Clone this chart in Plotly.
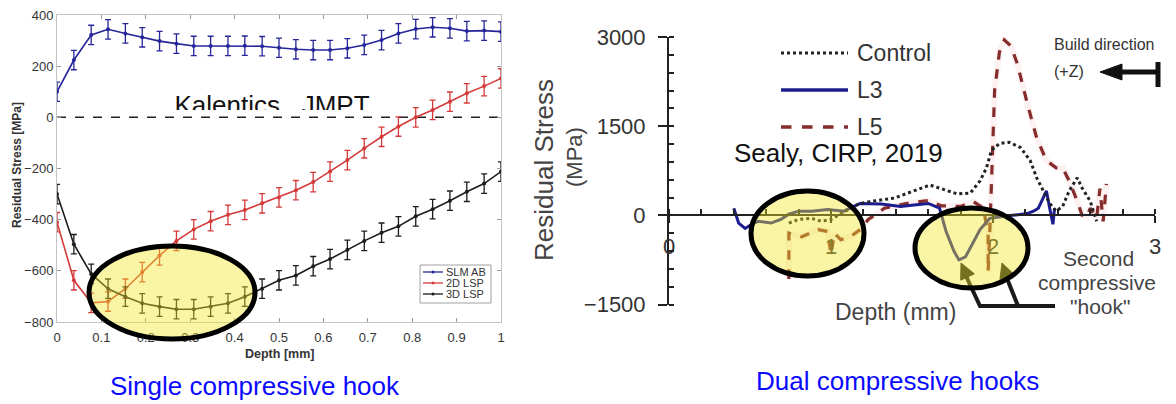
import plotly.graph_objects as go

W, H = 1176, 404
FONT = "Liberation Sans, Arial, sans-serif"

# ---------------- Left chart data (Kalentics, JMPT) ----------------
depth_left = [0.0, 0.038, 0.077, 0.115, 0.154, 0.192, 0.231, 0.269, 0.308, 0.346, 0.385,
              0.423, 0.462, 0.5, 0.538, 0.577, 0.615, 0.654, 0.692, 0.731, 0.769, 0.808,
              0.846, 0.885, 0.923, 0.962, 1.0]
slm_ab = [100, 224, 322, 344, 328, 313, 298, 288, 279, 279, 279, 280, 278, 272, 266, 263,
          263, 270, 283, 302, 328, 345, 352, 348, 337, 339, 335]
lsp_2d = [-410, -637, -725, -720, -670, -605, -540, -483, -438, -406, -381, -362, -336, -313,
          -285, -253, -212, -167, -121, -76, -36, 0, 29, 61, 94, 122, 152]
lsp_3d = [-300, -496, -612, -670, -701, -727, -740, -750, -750, -740, -727, -701, -670, -637,
          -618, -582, -554, -518, -483, -451, -426, -387, -359, -326, -291, -259, -212]
err_left = 38
left_names = ["SLM AB", "2D LSP", "3D LSP"]
left_colors = ["#26269a", "#d43a3a", "#1c1c1c"]
left_xticks = [0, 0.1, 0.2, 0.3, 0.4, 0.5, 0.6, 0.7, 0.8, 0.9, 1.0]
left_xticktext = ["0", "0.1", "0.2", "0.3", "0.4", "0.5", "0.6", "0.7", "0.8", "0.9", "1"]
left_yticks = [-800, -600, -400, -200, 0, 200, 400]

# ---------------- Right chart data (Sealy, CIRP, 2019) ----------------
ctrl_x = [0.74, 0.80, 0.88, 0.94, 1.00, 1.06, 1.12, 1.18, 1.26, 1.39, 1.48, 1.61, 1.69, 1.78,
          1.86, 1.92, 1.96, 1.99, 2.04, 2.10, 2.17, 2.23, 2.27, 2.31, 2.35, 2.39, 2.43, 2.47,
          2.52, 2.55, 2.60, 2.62, 2.64]
ctrl_y = [-130, -70, -50, -100, -70, 30, 120, 200, 240, 290, 375, 510, 440, 360, 375, 580, 800,
          1090, 1210, 1230, 1140, 920, 630, 410, 200, 70, 150, 410, 630, 460, 240, 70, -100]
l3_x = [0.40, 0.43, 0.47, 0.51, 0.55, 0.63, 0.69, 0.74, 0.80, 0.88, 0.98, 1.08, 1.14, 1.18,
        1.31, 1.43, 1.50, 1.60, 1.67, 1.71, 1.76, 1.79, 1.83, 1.87, 1.92, 1.98, 2.05, 2.12,
        2.21, 2.25, 2.28, 2.31, 2.33, 2.35, 2.37, 2.38]
l3_y = [120, -130, -220, -150, -100, -130, -70, 20, 70, 70, 100, 70, 150, 200, 190, 150, 170,
        200, 120, -270, -610, -750, -700, -500, -240, -50, -20, 0, 30, 70, 120, 290, 410, 120,
        -150, 120]
l5_x = [0.74, 0.74, 0.82, 0.92, 0.98, 1.00, 1.02, 1.06, 1.12, 1.18, 1.23, 1.33, 1.47, 1.60,
        1.68, 1.80, 1.88, 1.94, 1.97, 1.97, 1.98, 1.99, 2.00, 2.01, 2.04, 2.07, 2.11, 2.15,
        2.21, 2.27, 2.33, 2.39, 2.43, 2.47, 2.52, 2.55, 2.58, 2.60, 2.64, 2.66, 2.68, 2.70]
l5_y = [-1070, -300, -360, -240, -270, -660, -300, -410, -360, -240, -70, 120, 200, 250, 160,
        150, 230, 120, -300, -950, -300, 400, 1200, 2100, 2750, 2950, 2850, 2550, 1900, 1300,
        920, 800, 800, 580, 240, 0, -30, 120, -50, 450, -100, 530]
right_names = ["Control", "L3", "L5"]
right_xticks = [0, 1, 2, 3]
right_yticks = [-1500, 0, 1500, 3000]


def px(x):
    return x / W


def py(y):
    return 1 - y / H


fig = go.Figure()

# left chart traces
for name, vals, col in zip(left_names, [slm_ab, lsp_2d, lsp_3d], left_colors):
    fig.add_trace(go.Scatter(
        x=depth_left, y=vals, name=name, mode="lines+markers",
        line=dict(color=col, width=1.6), marker=dict(color=col, size=4),
        error_y=dict(type="constant", value=err_left, color=col, thickness=1.3, width=3),
        xaxis="x", yaxis="y", showlegend=False))

# right chart traces
fig.add_trace(go.Scatter(x=l5_x, y=l5_y, mode="lines", xaxis="x2", yaxis="y2",
                         line=dict(color="rgba(235,140,140,0.12)", width=6), showlegend=False,
                         hoverinfo="skip"))
fig.add_trace(go.Scatter(x=l5_x, y=l5_y, name="L5", mode="lines", xaxis="x2", yaxis="y2",
                         line=dict(color="#862c2c", width=3.2, dash="dash"), showlegend=False))
fig.add_trace(go.Scatter(x=l3_x, y=l3_y, name="L3", mode="lines", xaxis="x2", yaxis="y2",
                         line=dict(color="#1c1c8e", width=3), showlegend=False))
fig.add_trace(go.Scatter(x=ctrl_x, y=ctrl_y, name="Control", mode="lines", xaxis="x2",
                         yaxis="y2", line=dict(color="#222222", width=3, dash="dot"),
                         showlegend=False))

# clipped title text for left chart
fig.add_trace(go.Scatter(x=[272], y=[107], mode="text", text=["Kalentics,  JMPT"],
                         textfont=dict(size=26, color="#111", family=FONT),
                         textposition="middle center", cliponaxis=True,
                         xaxis="x3", yaxis="y3", showlegend=False, hoverinfo="skip"))

shapes = []
# dashed zero line (left)
shapes.append(dict(type="line", xref="x", yref="y", x0=0, x1=1, y0=0, y1=0,
                   line=dict(color="#222", width=1.5, dash="dash"), layer="below"))

# left legend
shapes.append(dict(type="rect", xref="paper", yref="paper", x0=px(420), x1=px(491),
                   y0=py(303), y1=py(265), line=dict(color="#a0a0a0", width=1),
                   fillcolor="white", layer="above"))
annotations = []
for i, (name, col) in enumerate(zip(left_names, left_colors)):
    yy = 272 + i * 11
    shapes.append(dict(type="line", xref="paper", yref="paper", x0=px(423), x1=px(443),
                       y0=py(yy), y1=py(yy), line=dict(color=col, width=1.3), layer="above"))
    shapes.append(dict(type="circle", xref="paper", yref="paper", x0=px(431.5), x1=px(434.5),
                       y0=py(yy + 1.5), y1=py(yy - 1.5), fillcolor=col,
                       line=dict(color=col, width=0), layer="above"))
    annotations.append(dict(x=px(444), y=py(yy), xref="paper", yref="paper", text=name,
                            showarrow=False, xanchor="left", yanchor="middle",
                            font=dict(size=11, color="#333", family=FONT)))

# right legend
legend_styles = [dict(color="#222222", width=3, dash="dot"),
                 dict(color="#1c1c8e", width=3.5),
                 dict(color="#862c2c", width=3.5, dash="dash")]
for i, (name, st) in enumerate(zip(right_names, legend_styles)):
    yy = [53, 90, 127][i]
    shapes.append(dict(type="line", xref="paper", yref="paper", x0=px(781), x1=px(848),
                       y0=py(yy), y1=py(yy), line=st, layer="above"))
    annotations.append(dict(x=px(855), y=py(yy), xref="paper", yref="paper", text=name,
                            showarrow=False, xanchor="left", yanchor="middle",
                            font=dict(size=23, color="#333", family=FONT)))


def tri(tip, base_c, half):
    (tx, ty), (bx, by) = tip, base_c
    dx, dy = tx - bx, ty - by
    n = (dx * dx + dy * dy) ** 0.5
    nx, ny = -dy / n * half, dx / n * half
    pts = [(tx, ty), (bx + nx, by + ny), (bx - nx, by - ny)]
    return "M " + " L ".join(f"{px(a):.5f},{py(b):.5f}" for a, b in pts) + " Z"


# "Second compressive hook" arrows (drawn before ellipses so they are tinted)
hook_col = "#1a1a1a"
shapes.append(dict(type="path", xref="paper", yref="paper",
                   path=f"M {px(1055):.5f},{py(306):.5f} L {px(980):.5f},{py(306):.5f} "
                        f"L {px(966):.5f},{py(276):.5f}",
                   line=dict(color=hook_col, width=4), layer="above"))
shapes.append(dict(type="path", xref="paper", yref="paper",
                   path=f"M {px(1018):.5f},{py(306):.5f} L {px(1006):.5f},{py(276):.5f}",
                   line=dict(color=hook_col, width=4), layer="above"))
shapes.append(dict(type="path", xref="paper", yref="paper",
                   path=tri((961, 263), (967.5, 277), 7.5), fillcolor=hook_col,
                   line=dict(color=hook_col, width=1), layer="above"))
shapes.append(dict(type="path", xref="paper", yref="paper",
                   path=tri((1002, 263), (1007, 277), 7.5), fillcolor=hook_col,
                   line=dict(color=hook_col, width=1), layer="above"))

# build-direction arrow
shapes.append(dict(type="line", xref="paper", yref="paper", x0=px(1115), x1=px(1158),
                   y0=py(72), y1=py(72), line=dict(color="#111", width=5), layer="above"))
shapes.append(dict(type="line", xref="paper", yref="paper", x0=px(1158), x1=px(1158),
                   y0=py(62), y1=py(87), line=dict(color="#111", width=5), layer="above"))
shapes.append(dict(type="path", xref="paper", yref="paper",
                   path=tri((1100, 72), (1122, 72), 8), fillcolor="#111",
                   line=dict(color="#111", width=1), layer="above"))

# highlight ellipses
ell_fill = "rgba(240,232,40,0.42)"
for cx, cy, rx, ry in [(172, 292.5, 83, 46.5), (807.5, 233.5, 56.5, 42.5),
                       (971.5, 248, 56.5, 40)]:
    shapes.append(dict(type="circle", xref="paper", yref="paper",
                       x0=px(cx - rx), x1=px(cx + rx), y0=py(cy + ry), y1=py(cy - ry),
                       fillcolor=ell_fill, line=dict(color="black", width=5), layer="above"))


def ann(x, y, text, size, color="#333", angle=0, xanchor="center"):
    annotations.append(dict(x=px(x), y=py(y), xref="paper", yref="paper", text=text,
                            showarrow=False, xanchor=xanchor, yanchor="middle",
                            textangle=angle, font=dict(size=size, color=color, family=FONT)))


ann(17, 165, "<b>Residual Stress [MPa]</b>", 12, "#333", -90)
ann(279, 354, "<b>Depth [mm]</b>", 12.5, "#333")
ann(255, 386, "Single compressive hook", 26, "#0a0aff")
ann(897, 381, "Dual compressive hooks", 26, "#0a0aff")
ann(838, 153, "Sealy, CIRP, 2019", 26, "#111")
ann(544, 170, "Residual Stress", 26, "#444", -90)
ann(574, 157, "(MPa)", 22, "#444", -90)
ann(895, 312, "Depth (mm)", 23, "#444")
ann(1098, 258, "Second", 21, "#444")
ann(1097, 282, "compressive", 21, "#444")
ann(1100, 306, "\"hook\"", 21, "#444")
ann(1052, 45, "Build direction", 16, "#333", xanchor="left")
ann(1052, 72, "(+Z)", 16, "#333", xanchor="left")

fig.update_layout(
    template="none",
    width=W, height=H, autosize=False,
    margin=dict(l=0, r=0, t=0, b=0, pad=0, autoexpand=False),
    paper_bgcolor="white", plot_bgcolor="rgba(0,0,0,0)",
    font=dict(family=FONT),
    showlegend=False,
    shapes=shapes, annotations=annotations,
    xaxis=dict(domain=[px(57), px(501)], range=[0, 1], anchor="y", automargin=False,
               tickvals=left_xticks, ticktext=left_xticktext,
               showline=True, mirror="ticks", linecolor="#c4c4c4", linewidth=1,
               ticks="inside", ticklen=4, tickcolor="#999", ticklabelstandoff=3,
               tickfont=dict(size=13, color="#333", family=FONT),
               showgrid=False, zeroline=False),
    yaxis=dict(domain=[py(322), py(15)], range=[-800, 400], anchor="x", automargin=False,
               tickvals=left_yticks,
               showline=True, mirror="ticks", linecolor="#c4c4c4", linewidth=1,
               ticks="inside", ticklen=4, tickcolor="#999",
               tickfont=dict(size=13, color="#333", family=FONT),
               showgrid=False, zeroline=False),
    xaxis2=dict(domain=[px(669), px(1155)], range=[0, 3], anchor="free", position=py(215),
                automargin=False,
                tickvals=right_xticks, showline=True, linecolor="#222", linewidth=2,
                ticks="outside", ticklen=7, tickwidth=2, tickcolor="#222",
                minor=dict(dtick=0.2, ticks="inside", ticklen=5, tickwidth=1.5,
                           tickcolor="#222"),
                ticklabelstandoff=5,
                tickfont=dict(size=22, color="#333", family=FONT),
                showgrid=False, zeroline=False),
    yaxis2=dict(domain=[py(304.5), py(37)], range=[-1500, 3000], anchor="x2",
                automargin=False,
                tickvals=right_yticks, showline=True, linecolor="#222", linewidth=2,
                ticks="outside", ticklen=9, tickwidth=2, tickcolor="#222",
                minor=dict(dtick=300, ticks="inside", ticklen=5, tickwidth=1.5,
                           tickcolor="#222"),
                ticklabelstandoff=8,
                tickfont=dict(size=22, color="#333", family=FONT),
                showgrid=False, zeroline=False),
    xaxis3=dict(domain=[0, 1], range=[0, W], anchor="y3", visible=False, automargin=False),
    yaxis3=dict(domain=[py(110), 1], range=[110, 0], anchor="x3", visible=False,
                automargin=False),
)

fig.write_html(
    "out.html",
    config={"displayModeBar": False},
    post_script=("document.body.style.margin='0px';document.body.style.padding='0px';"
                 "document.documentElement.style.overflow='hidden';"),
)
